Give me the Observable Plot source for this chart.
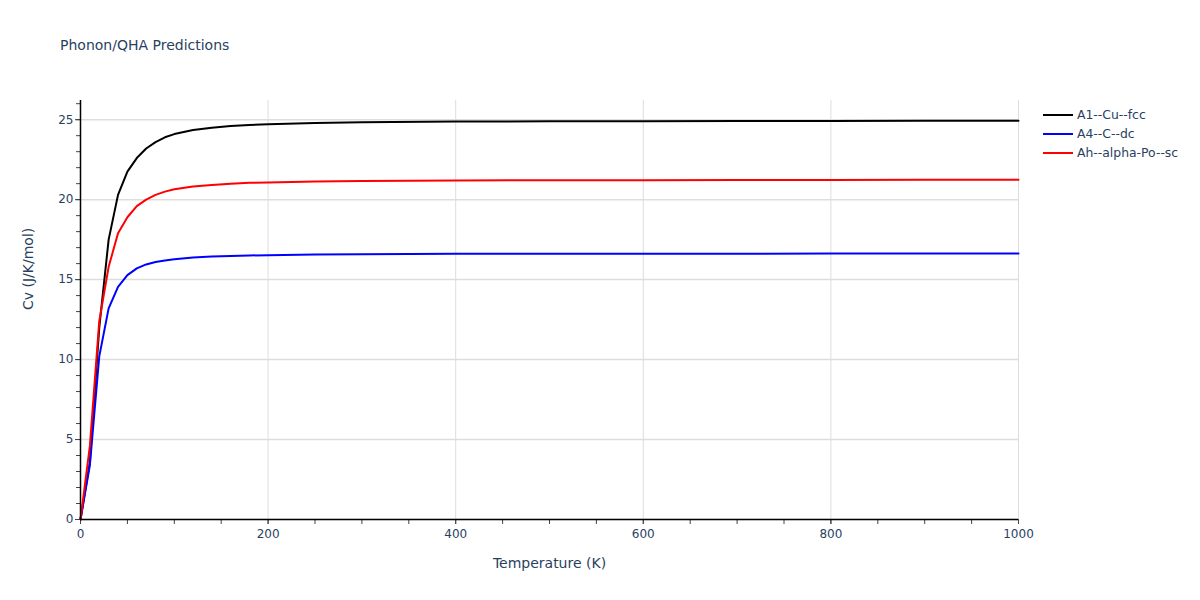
<!DOCTYPE html>
<html>
<head>
<meta charset="utf-8">
<script src="https://cdn.jsdelivr.net/npm/d3@7"></script>
<script src="https://cdn.jsdelivr.net/npm/@observablehq/plot@0.6"></script>
<style>
  html, body { margin: 0; padding: 0; background: #fff; }
  #wrap { position: relative; width: 1200px; height: 600px; font-family: "DejaVu Sans", sans-serif; color: #2a3f5f; }
  #title { position: absolute; left: 60px; top: 37px; font-size: 14px; color: #2a3f5f; }
  #legend { position: absolute; left: 1043px; top: 105px; font-size: 12.4px; color: #2a3f5f; }
  .row { display: flex; align-items: center; height: 19px; }
  .sw { width: 30px; height: 2px; margin-right: 4px; }
  #chart { position: absolute; left: 0; top: 0; }
</style>
</head>
<body>
<div id="wrap">
  <div id="chart"></div>
  <div id="title">Phonon/QHA Predictions</div>
  <div id="legend"></div>
</div>
<script>
// Temperatures (K)
const temps = [0, 10, 20, 30, 40, 50, 60, 70, 80, 90, 100, 120, 140, 160, 180, 200, 250, 300, 400, 500, 600, 700, 800, 900, 1000];
// Cv (J/K/mol) for each series
const cuFcc = [0, 3.6, 12.0, 17.5, 20.3, 21.75, 22.6, 23.2, 23.6, 23.9, 24.1, 24.35, 24.5, 24.6, 24.67, 24.72, 24.8, 24.84, 24.88, 24.9, 24.91, 24.92, 24.92, 24.93, 24.93];
const cDc = [0, 3.4, 10.2, 13.2, 14.55, 15.28, 15.7, 15.95, 16.1, 16.2, 16.28, 16.38, 16.44, 16.48, 16.51, 16.53, 16.57, 16.59, 16.61, 16.62, 16.62, 16.62, 16.63, 16.63, 16.63];
const poSc = [0, 4.6, 12.4, 15.8, 17.9, 18.9, 19.6, 20.0, 20.3, 20.5, 20.65, 20.82, 20.92, 21.0, 21.05, 21.08, 21.13, 21.16, 21.2, 21.21, 21.22, 21.23, 21.23, 21.24, 21.24];

const seriesNames = ["A1--Cu--fcc", "A4--C--dc", "Ah--alpha-Po--sc"];
const seriesColors = ["#000000", "#0000ff", "#ff0000"];
const seriesValues = [cuFcc, cDc, poSc];

const xMajorTicks = [0, 200, 400, 600, 800, 1000];
const xMinorTicks = d3.range(0, 1001, 50);
const yMajorTicks = [0, 5, 10, 15, 20, 25];
const yMinorTicks = d3.range(0, 27, 1);

const rows = [];
seriesNames.forEach((name, i) => {
  temps.forEach((t, j) => rows.push({series: name, T: t, Cv: seriesValues[i][j]}));
});

const chart = Plot.plot({
  width: 1200,
  height: 600,
  marginLeft: 80,
  marginRight: 182,
  marginTop: 100,
  marginBottom: 81,
  style: {fontFamily: "'DejaVu Sans', sans-serif", fontSize: "12px", color: "#2a3f5f", background: "transparent"},
  x: {domain: [0, 1000]},
  y: {domain: [0, 26.2]},
  color: {domain: seriesNames, range: seriesColors},
  marks: [
    Plot.gridX(xMajorTicks, {stroke: "#dddddd", strokeOpacity: 1}),
    Plot.gridY(yMajorTicks, {stroke: "#dddddd", strokeOpacity: 1, strokeWidth: 1.5}),
    Plot.axisX(xMinorTicks, {tickSize: 5, tickFormat: () => "", stroke: "#444", label: null}),
    Plot.axisX(xMajorTicks, {tickSize: 5, tickPadding: 5, tickFormat: d3.format("d"), fill: "#2a3f5f", stroke: "#444", label: null}),
    Plot.axisY(yMinorTicks, {tickSize: 4, tickFormat: () => "", stroke: "#444", label: null}),
    Plot.axisY(yMajorTicks, {tickSize: 5, tickPadding: 2, fill: "#2a3f5f", stroke: "#444", label: null}),
    Plot.text(["Temperature (K)"], {frameAnchor: "bottom", dy: 44, text: d => d, fontSize: 14, fill: "#2a3f5f", lineAnchor: "middle"}),
    Plot.text(["Cv (J/K/mol)"], {frameAnchor: "left", dx: -52, rotate: -90, text: d => d, fontSize: 14, fill: "#2a3f5f", lineAnchor: "middle"}),
    Plot.line(rows, {x: "T", y: "Cv", z: "series", stroke: "series", strokeWidth: 2}),
    Plot.ruleX([0], {stroke: "#000", strokeWidth: 1.5}),
    Plot.ruleY([0], {stroke: "#000", strokeWidth: 1.5})
  ]
});
document.getElementById("chart").appendChild(chart);

const legend = document.getElementById("legend");
seriesNames.forEach((name, i) => {
  const r = document.createElement("div");
  r.className = "row";
  const sw = document.createElement("div");
  sw.className = "sw";
  sw.style.background = seriesColors[i];
  const t = document.createElement("span");
  t.textContent = name;
  r.appendChild(sw);
  r.appendChild(t);
  legend.appendChild(r);
});
</script>
</body>
</html>
